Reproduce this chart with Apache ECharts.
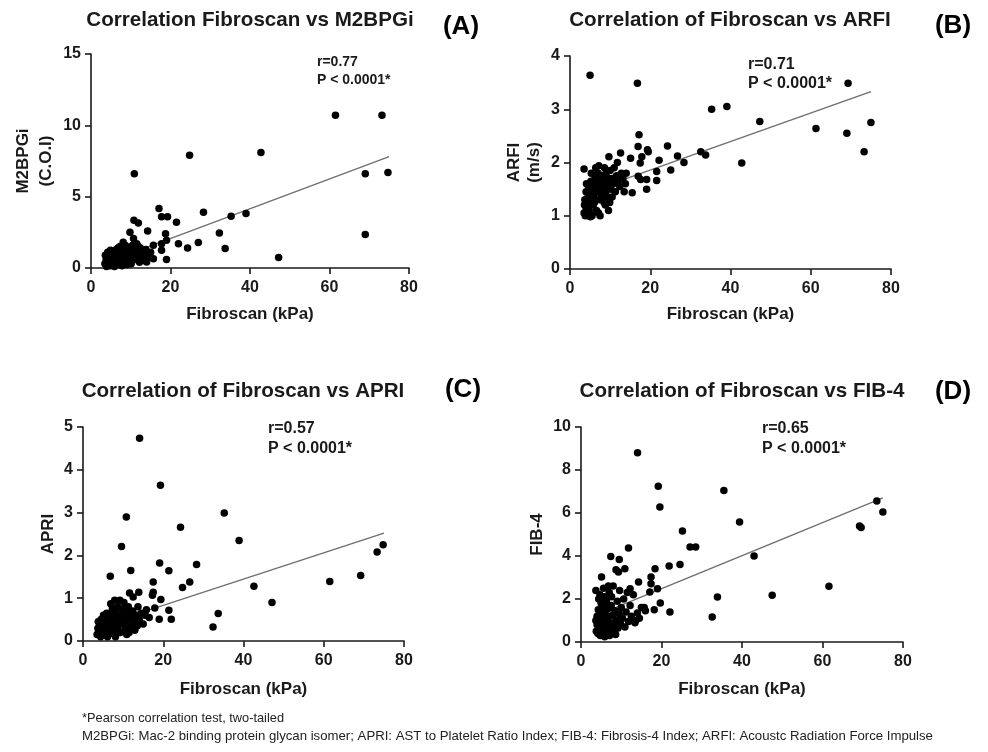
<!DOCTYPE html>
<html>
<head>
<meta charset="utf-8">
<title>Fibroscan correlations</title>
<script src="https://cdn.jsdelivr.net/npm/echarts@6/dist/echarts.min.js"></script>
<style>
  html, body { margin: 0; padding: 0; background: #fff; }
  #chart { width: 988px; height: 752px; }
</style>
</head>
<body>
<div id="chart"></div>
<script>
// ---- data: [Fibroscan kPa, marker value] ----
var m2bpgiPoints = [
  [61.5, 10.7], [73.2, 10.7], [42.75, 8.1], [24.8, 7.9], [10.9, 6.6], [69, 6.6], [74.7, 6.7],
  [69, 2.35], [47.2, 0.73], [39, 3.82], [35.25, 3.63], [28.3, 3.9], [32.3, 2.46], [33.75, 1.36],
  [27, 1.78], [24.3, 1.4], [21.5, 3.2], [22, 1.7], [17.1, 4.17], [17.75, 3.6], [19.25, 3.6],
  [10.8, 3.35], [11.9, 3.16], [14.25, 2.6], [9.8, 2.5], [18.75, 2.4], [19, 1.95], [17.75, 1.7],
  [17.75, 1.25], [19, 0.6], [15.7, 1.6], [15.7, 0.65], [14, 0.42], [10.7, 2.06],
  [3.5, 0.3], [3.8, 0.6], [4, 0.2], [4.2, 1.1], [4.5, 0.4], [4.6, 0.8], [4.8, 0.15], [5, 0.5],
  [5.1, 1.0], [5.3, 0.3], [5.5, 0.7], [5.6, 1.2], [5.8, 0.45], [6, 0.2], [6, 0.9], [6.2, 0.6],
  [6.4, 1.3], [6.5, 0.35], [6.7, 0.75], [6.9, 1.05], [7, 0.25], [7.2, 0.55], [7.3, 1.5],
  [7.5, 0.85], [7.7, 0.4], [7.9, 1.2], [8, 0.65], [8.2, 0.3], [8.4, 1.0], [8.6, 1.6], [8.8, 0.5],
  [9, 0.8], [9.2, 1.25], [9.4, 0.35], [9.6, 1.45], [9.8, 0.7], [10, 1.0], [10.3, 0.55],
  [10.5, 1.6], [10.8, 0.85], [11, 1.3], [11.3, 0.6], [11.6, 1.1], [12, 0.9], [12.4, 1.4],
  [12.8, 0.7], [13.2, 1.05], [13.6, 0.5], [14, 0.95], [14.5, 0.75], [15, 1.1], [4.3, 0.65],
  [5.2, 0.85], [6.3, 0.45], [7.4, 0.7], [8.5, 0.9], [9.5, 0.55], [3.6, 0.9], [4.9, 1.25],
  [6.8, 1.4], [11.5, 1.7], [8.1, 1.8], [3.9, 0.1], [5.9, 0.1], [7.8, 0.15], [10.1, 0.3],
  [12.2, 0.4], [4.4, 0.45], [6.6, 0.55], [9.1, 0.25], [11.9, 1.5], [13.8, 1.3]
];
var arfiPoints = [
  [5, 3.64], [16.8, 3.49], [69.3, 3.49], [35.3, 3.0], [39.1, 3.05], [47.3, 2.77], [61.3, 2.64],
  [69, 2.55], [75, 2.75], [73.3, 2.2], [42.8, 1.99], [32.6, 2.2], [33.8, 2.14], [26.8, 2.12],
  [28.4, 2.0], [24.3, 2.31], [22.2, 2.04], [25.1, 1.86], [21.6, 1.83], [21.6, 1.66], [17.2, 2.52],
  [16.97, 2.3], [19.3, 2.24], [19.5, 2.2], [17.9, 2.11], [17.5, 1.99], [17, 1.74], [17.6, 1.68],
  [19.1, 1.68], [19.1, 1.5], [15.5, 1.43], [15.1, 2.08], [12.6, 2.18], [9.7, 2.11], [3.5, 1.88],
  [7.2, 1.94], [9.6, 1.1], [7.5, 1.0],
  [3.5, 1.05], [3.7, 1.3], [3.8, 1.0], [4, 1.15], [4, 1.45], [4.2, 1.25], [4.4, 1.02], [4.5, 1.35],
  [4.6, 1.55], [4.8, 1.1], [5, 1.4], [5, 1.2], [5.2, 1.65], [5.4, 1.3], [5.5, 1.0], [5.6, 1.5],
  [5.8, 1.2], [6, 1.6], [6, 1.4], [6.2, 1.75], [6.3, 1.3], [6.5, 1.5], [6.6, 1.1], [6.8, 1.65],
  [7, 1.45], [7, 1.8], [7.2, 1.55], [7.4, 1.3], [7.5, 1.7], [7.7, 1.5], [7.9, 1.6], [8, 1.4],
  [8.2, 1.75], [8.4, 1.55], [8.5, 1.25], [8.7, 1.65], [8.9, 1.45], [9, 1.8], [9.2, 1.6],
  [9.4, 1.35], [9.6, 1.7], [9.8, 1.55], [10, 1.85], [10.2, 1.5], [10.5, 1.7], [10.8, 1.6],
  [11, 1.9], [11.3, 1.45], [11.6, 1.75], [12, 1.65], [12.4, 1.55], [12.8, 1.8], [13.2, 1.7],
  [13.5, 1.45], [14, 1.8], [4.6, 1.0], [5.1, 0.98], [3.6, 1.2], [6.1, 1.25], [8.8, 1.2],
  [10.5, 1.35], [7.1, 1.05], [6.4, 1.9], [5.3, 1.8], [7.8, 1.35], [8.6, 1.9], [11.8, 2.0],
  [13.8, 1.6], [4.1, 1.6], [9.9, 1.25]
];
var apriPoints = [
  [14.1, 4.74], [19.3, 3.64], [35.2, 2.99], [10.8, 2.9], [24.3, 2.66], [38.9, 2.35], [9.6, 2.21],
  [74.8, 2.25], [73.3, 2.08], [19.1, 1.82], [28.3, 1.79], [21.4, 1.64], [11.9, 1.65], [6.8, 1.51],
  [69.2, 1.53], [61.5, 1.39], [26.6, 1.38], [24.8, 1.25], [42.6, 1.28], [17.5, 1.38], [17.5, 1.14],
  [17.3, 1.07], [47.1, 0.9], [19.4, 0.97], [33.7, 0.64], [32.4, 0.33], [21.4, 0.72], [22, 0.51],
  [19, 0.51], [11.6, 1.12], [13.9, 1.14], [12.5, 1.03], [7.9, 0.95], [6.9, 0.87], [17.9, 0.77],
  [15.8, 0.73],
  [3.5, 0.15], [3.7, 0.3], [3.8, 0.45], [4, 0.2], [4.2, 0.35], [4.4, 0.1], [4.5, 0.5], [4.7, 0.25],
  [4.9, 0.4], [5, 0.15], [5.2, 0.3], [5.4, 0.55], [5.5, 0.2], [5.7, 0.4], [5.9, 0.65], [6, 0.25],
  [6.2, 0.45], [6.4, 0.15], [6.5, 0.35], [6.7, 0.6], [6.9, 0.3], [7, 0.5], [7.2, 0.2], [7.4, 0.4],
  [7.6, 0.7], [7.8, 0.3], [8, 0.55], [8.2, 0.25], [8.4, 0.45], [8.6, 0.8], [8.8, 0.35], [9, 0.6],
  [9.3, 0.2], [9.5, 0.5], [9.8, 0.75], [10, 0.4], [10.2, 0.9], [10.5, 0.3], [10.7, 0.6], [11, 0.45],
  [11.3, 0.8], [11.5, 0.2], [11.8, 0.55], [12, 0.35], [12.4, 0.7], [12.8, 0.45], [13.2, 0.6],
  [13.5, 0.35], [14, 0.5], [14.5, 0.65], [15, 0.4], [15.5, 0.6], [16.5, 0.55], [9.2, 0.95],
  [10.3, 0.7], [8.3, 0.65], [6.1, 0.1], [8.1, 0.1], [10.9, 0.15], [12.9, 0.25], [5.1, 0.6],
  [7.3, 0.75], [11.1, 0.65], [13.7, 0.8]
];
var fib4Points = [
  [14.05, 8.8], [19.2, 7.24], [19.6, 6.28], [35.5, 7.05], [39.4, 5.58], [25.2, 5.16], [73.5, 6.56],
  [75, 6.05], [69.2, 5.4], [69.6, 5.32], [27.1, 4.42], [28.5, 4.42], [43, 4.0], [24.6, 3.6],
  [21.9, 3.53], [11.8, 4.37], [7.4, 3.98], [9.5, 3.84], [8.7, 3.36], [9.3, 3.26], [10.9, 3.41],
  [18.4, 3.41], [17.4, 3.02], [5.1, 3.02], [14.3, 2.79], [17.4, 2.71], [19.0, 2.48], [17.1, 2.33],
  [12.2, 2.48], [3.7, 2.4], [33.9, 2.09], [47.5, 2.17], [61.6, 2.59], [32.6, 1.16], [19.7, 1.81],
  [18.2, 1.5], [22.1, 1.4], [15.7, 1.6], [13.6, 1.0],
  [3.8, 0.5], [4, 0.8], [4, 1.2], [4.2, 0.4], [4.3, 1.5], [4.5, 0.65], [4.6, 1.0], [4.8, 0.3],
  [4.9, 1.35], [5, 0.75], [5, 1.8], [5.2, 0.5], [5.3, 1.1], [5.5, 0.35], [5.5, 1.6], [5.7, 0.85],
  [5.8, 2.1], [6, 0.45], [6, 1.3], [6.2, 0.7], [6.3, 1.9], [6.5, 0.35], [6.5, 1.05], [6.7, 1.55],
  [6.9, 0.6], [7, 2.3], [7, 1.2], [7.2, 0.4], [7.4, 0.9], [7.5, 1.7], [7.7, 0.55], [7.9, 1.25],
  [8, 2.6], [8.2, 0.75], [8.4, 1.45], [8.6, 0.35], [8.8, 1.0], [9, 1.9], [9.2, 0.65], [9.5, 1.3],
  [9.8, 0.85], [10, 1.6], [10.3, 1.1], [10.6, 2.0], [10.9, 0.7], [11.2, 1.4], [11.5, 2.3],
  [11.8, 0.95], [12.2, 1.7], [12.5, 1.2], [13, 2.2], [13.4, 0.9], [14, 1.35], [14.5, 1.1],
  [15, 1.6], [16, 1.45], [5.6, 2.5], [6.8, 2.6], [9.6, 2.4], [4.4, 2.0], [3.7, 1.0],
  [5.9, 0.25], [7.1, 0.3], [6.1, 1.7], [4.7, 2.2], [7.6, 2.1], [8.3, 0.5], [5.4, 0.95]
];

// regression line end points
var m2bpgiFit = [[4, 0.4], [75, 7.8]];
var arfiFit = [[4, 1.43], [75, 3.33]];
var apriFit = [[4, 0.34], [75, 2.52]];
var fib4Fit = [[4, 1.25], [75, 6.7]];

// axis ranges / ticks
var xTicks = { min: 0, max: 80, interval: 20 };
var yTicks = [
  { min: 0, max: 15, interval: 5 },
  { min: 0, max: 4, interval: 1 },
  { min: 0, max: 5, interval: 1 },
  { min: 0, max: 10, interval: 2 }
];

var titles = [
  'Correlation Fibroscan vs M2BPGi',
  'Correlation of Fibroscan vs ARFI',
  'Correlation of Fibroscan vs APRI',
  'Correlation of Fibroscan vs FIB-4'
];
var panelLabels = ['(A)', '(B)', '(C)', '(D)'];
var yNames = ['M2BPGi\n(C.O.I)', 'ARFI\n(m/s)', 'APRI', 'FIB-4'];
var rValues = ['r=0.77', 'r=0.71', 'r=0.57', 'r=0.65'];
var pValue = 'P < 0.0001*';

var font = '"Liberation Sans", Arial, Helvetica, sans-serif';
var ink = '#1a1a1a';

var chart = echarts.init(document.getElementById('chart'));

// grid boxes in px
var grids = [
  { left: 91, top: 54, width: 318, height: 214 },
  { left: 570, top: 56, width: 321, height: 213 },
  { left: 83, top: 427, width: 321, height: 214 },
  { left: 581, top: 427, width: 322, height: 215 }
];
var yNameGaps = [33, 26, 25, 34];
var yNameLines = [23, 20, 20, 20];
var xNameGaps = [38, 37, 40, 39];
var pointSets = [m2bpgiPoints, arfiPoints, apriPoints, fib4Points];
var fitSets = [m2bpgiFit, arfiFit, apriFit, fib4Fit];

var xAxes = [], yAxes = [], series = [];
grids.forEach(function (g, i) {
  xAxes.push({
    gridIndex: i, type: 'value', min: xTicks.min, max: xTicks.max, interval: xTicks.interval,
    name: 'Fibroscan (kPa)', nameLocation: 'middle', nameGap: xNameGaps[i],
    nameTextStyle: { fontFamily: font, fontWeight: 'bold', fontSize: 17, color: ink },
    axisLine: { lineStyle: { color: ink, width: 1.6 } },
    axisTick: { length: 6, lineStyle: { color: ink, width: 1.6 } },
    axisLabel: { margin: 12, fontFamily: font, fontWeight: 'bold', fontSize: 16, color: ink },
    splitLine: { show: false }
  });
  yAxes.push({
    gridIndex: i, type: 'value', min: yTicks[i].min, max: yTicks[i].max, interval: yTicks[i].interval,
    name: yNames[i], nameLocation: 'middle', nameGap: yNameGaps[i], nameRotate: 90,
    nameTextStyle: { fontFamily: font, fontWeight: 'bold', fontSize: 17, color: ink, lineHeight: yNameLines[i] },
    axisLine: { show: true, lineStyle: { color: ink, width: 1.6 } },
    axisTick: { show: true, length: 6, lineStyle: { color: ink, width: 1.6 } },
    axisLabel: { margin: 10, fontFamily: font, fontWeight: 'bold', fontSize: 16, color: ink },
    splitLine: { show: false }
  });
  series.push({
    type: 'scatter', xAxisIndex: i, yAxisIndex: i, data: pointSets[i],
    symbolSize: 7.5, itemStyle: { color: '#000', opacity: 1 }, z: 3
  });
  series.push({
    type: 'line', xAxisIndex: i, yAxisIndex: i, data: fitSets[i],
    symbol: 'none', lineStyle: { color: '#6e6e6e', width: 1.3 }, z: 2
  });
});

var graphics = [];
var titlePos = [[250, 20], [730, 20], [243, 391], [742, 391]];
var labelPos = [[461, 27], [953, 26], [463, 390], [953, 392]];
var statPos = [[317, 62, 80, 14], [748, 65, 84, 16], [268, 429, 449, 16], [762, 429, 449, 16]];
for (var i = 0; i < 4; i++) {
  graphics.push({
    type: 'text', x: titlePos[i][0], y: titlePos[i][1],
    style: { text: titles[i], font: 'bold 20.6px ' + font, fill: ink, align: 'center', verticalAlign: 'middle' }
  });
  graphics.push({
    type: 'text', x: labelPos[i][0], y: labelPos[i][1],
    style: { text: panelLabels[i], font: 'bold 26px ' + font, fill: '#000', align: 'center', verticalAlign: 'middle' }
  });
  graphics.push({
    type: 'text', x: statPos[i][0], y: statPos[i][1],
    style: { text: rValues[i], font: 'bold ' + statPos[i][3] + 'px ' + font, fill: ink, align: 'left', verticalAlign: 'middle' }
  });
  graphics.push({
    type: 'text', x: statPos[i][0], y: statPos[i][2],
    style: { text: pValue, font: 'bold ' + statPos[i][3] + 'px ' + font, fill: ink, align: 'left', verticalAlign: 'middle' }
  });
}
graphics.push({
  type: 'text', x: 82, y: 718,
  style: { text: '*Pearson correlation test, two-tailed', font: '12.8px ' + font, fill: '#222', verticalAlign: 'middle' }
});
graphics.push({
  type: 'text', x: 82, y: 736,
  style: {
    text: 'M2BPGi: Mac-2 binding protein glycan isomer; APRI: AST to Platelet Ratio Index; FIB-4: Fibrosis-4 Index; ARFI: Acoustc Radiation Force Impulse',
    font: '13.2px ' + font, fill: '#222', verticalAlign: 'middle'
  }
});

var option = {
  backgroundColor: '#fff',
  animation: false,
  grid: grids,
  xAxis: xAxes,
  yAxis: yAxes,
  series: series,
  graphic: graphics
};
chart.setOption(option);
window.addEventListener('resize', function () { chart.resize(); });
</script>
</body>
</html>
